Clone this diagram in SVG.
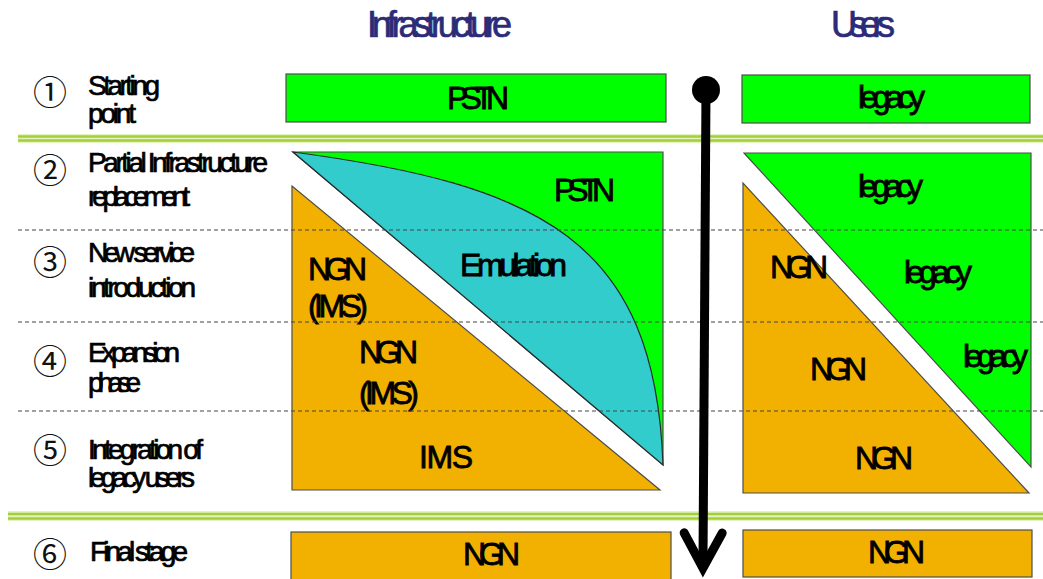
<svg xmlns="http://www.w3.org/2000/svg" width="1043" height="579" viewBox="0 0 1043 579">
  <style>
    .hdr { font-family: "Liberation Sans", Arial, sans-serif; font-size: 36px; fill: #2B2B78; stroke: #2B2B78; stroke-width: 0.7; }
    .lbl { font-family: "Liberation Sans", Arial, sans-serif; font-size: 28px; fill: #000; stroke: #000; stroke-width: 0.7; }
    .txt { font-family: "Liberation Sans", Arial, sans-serif; font-size: 32px; fill: #000; stroke: #000; stroke-width: 0.8; }
    .num { font-family: "Noto Sans CJK JP", "DejaVu Sans", sans-serif; font-size: 34px; fill: #111; }
    .green { fill: #00FF00; stroke: #4d4d4d; stroke-width: 1.2; }
    .orange { fill: #F2B100; stroke: #4d4d4d; stroke-width: 1.2; }
    .cyan { fill: #33CCCC; stroke: #2a2a2a; stroke-width: 1.2; }
    .band { fill: #e4f3c2; }
    .bandline { stroke: #a4cf3a; stroke-width: 2.5; }
    .dash { stroke: #444; stroke-width: 1.2; stroke-dasharray: 4 3; fill: none; }
    .flow { stroke: #000; stroke-width: 9; fill: none; }
  </style>
  <defs>
    <marker id="dot" markerUnits="userSpaceOnUse" markerWidth="40" markerHeight="40" refX="0" refY="0" viewBox="-20 -20 40 40" overflow="visible">
      <circle cx="0" cy="0" r="14" fill="#000"/>
    </marker>
    <marker id="chevron" markerUnits="userSpaceOnUse" orient="auto" markerWidth="60" markerHeight="60" refX="0" refY="0" viewBox="-30 -30 60 60" overflow="visible">
      <path d="M-27,-19 L8,0 L-27,19" fill="none" stroke="#000" stroke-width="9" stroke-linecap="round" stroke-linejoin="miter"/>
    </marker>
  </defs>

  <rect width="1043" height="579" fill="#fff"/>

  <!-- column headings -->
  <text class="hdr" x="367" y="37" textLength="145" lengthAdjust="spacing">Infrastructure</text>
  <text class="hdr" x="831" y="37" textLength="64" lengthAdjust="spacing">Users</text>

  <!-- stage labels -->
  <g id="stage-labels">
    <text class="num" x="50" y="90" text-anchor="middle" dominant-baseline="central">①</text>
    <text class="lbl" x="88" y="95" textLength="72" lengthAdjust="spacing">Starting</text>
    <text class="lbl" x="88" y="123" textLength="48" lengthAdjust="spacing">point</text>

    <text class="num" x="50" y="168" text-anchor="middle" dominant-baseline="central">②</text>
    <text class="lbl" x="88" y="172" textLength="180" lengthAdjust="spacing">Partial Infrastructure</text>
    <text class="lbl" x="88" y="206" textLength="102" lengthAdjust="spacing">replacement</text>

    <text class="num" x="50" y="260" text-anchor="middle" dominant-baseline="central">③</text>
    <text class="lbl" x="88" y="262" textLength="107" lengthAdjust="spacing">New service</text>
    <text class="lbl" x="88" y="297" textLength="108" lengthAdjust="spacing">introduction</text>

    <text class="num" x="50" y="359" text-anchor="middle" dominant-baseline="central">④</text>
    <text class="lbl" x="88" y="362" textLength="92" lengthAdjust="spacing">Expansion</text>
    <text class="lbl" x="88" y="392" textLength="53" lengthAdjust="spacing">phase</text>

    <text class="num" x="50" y="448" text-anchor="middle" dominant-baseline="central">⑤</text>
    <text class="lbl" x="88" y="459" textLength="115" lengthAdjust="spacing">Integration of</text>
    <text class="lbl" x="88" y="487" textLength="107" lengthAdjust="spacing">legacy users</text>

    <text class="num" x="50" y="552" text-anchor="middle" dominant-baseline="central">⑥</text>
    <text class="lbl" x="90" y="561" textLength="98" lengthAdjust="spacing">Final stage</text>
  </g>

  <!-- stage 1 -->
  <g id="infra-start">
    <rect class="green" x="286" y="74" width="380" height="48"/>
    <text class="txt" x="447" y="109" textLength="62" lengthAdjust="spacing">PSTN</text>
  </g>
  <g id="users-start">
    <rect class="green" x="742" y="75" width="288" height="48"/>
    <text class="txt" x="858" y="108" textLength="67" lengthAdjust="spacing">legacy</text>
  </g>

  <!-- stages 2-5: infrastructure migration -->
  <g id="infra-pstn">
    <path class="green" d="M293,152 L663,152 L663,465 Z"/>
    <text class="txt" x="554" y="201" textLength="61" lengthAdjust="spacing">PSTN</text>
  </g>
  <g id="infra-emulation">
    <path class="cyan" d="M293,152 C540,185 655,240 663,465 Z"/>
    <text class="txt" x="460" y="276" textLength="107" lengthAdjust="spacing">Emulation</text>
  </g>
  <g id="infra-ngn">
    <path class="orange" d="M292,186 L292,490 L660,490 Z"/>
    <text class="txt" x="308" y="280" textLength="59" lengthAdjust="spacing">NGN</text>
    <text class="txt" x="308" y="317" textLength="60" lengthAdjust="spacing">(IMS)</text>
    <text class="txt" x="359" y="363" textLength="59" lengthAdjust="spacing">NGN</text>
    <text class="txt" x="359" y="404" textLength="60" lengthAdjust="spacing">(IMS)</text>
    <text class="txt" x="419" y="468" textLength="54" lengthAdjust="spacing">IMS</text>
  </g>

  <!-- stages 2-5: user migration -->
  <g id="users-legacy">
    <path class="green" d="M744,153 L1031,153 L1031,467 Z"/>
    <text class="txt" x="858" y="197" textLength="65" lengthAdjust="spacing">legacy</text>
    <text class="txt" x="904" y="283" textLength="68" lengthAdjust="spacing">legacy</text>
    <text class="txt" x="963" y="367" textLength="65" lengthAdjust="spacing">legacy</text>
  </g>
  <g id="users-ngn">
    <path class="orange" d="M743,183 L743,493 L1029,493 Z"/>
    <text class="txt" x="770" y="278" textLength="58" lengthAdjust="spacing">NGN</text>
    <text class="txt" x="810" y="380" textLength="57" lengthAdjust="spacing">NGN</text>
    <text class="txt" x="855" y="469" textLength="58" lengthAdjust="spacing">NGN</text>
  </g>

  <!-- stage 6 -->
  <g id="infra-final">
    <rect class="orange" x="291" y="532" width="380" height="52"/>
    <text class="txt" x="463" y="565" textLength="57" lengthAdjust="spacing">NGN</text>
  </g>
  <g id="users-final">
    <rect class="orange" x="743" y="530" width="289" height="47"/>
    <text class="txt" x="868" y="563" textLength="57" lengthAdjust="spacing">NGN</text>
  </g>

  <!-- phase separators -->
  <g id="separators">
    <rect class="band" x="18" y="134" width="1025" height="9"/>
    <line class="bandline" x1="18" y1="136.5" x2="1043" y2="136.5"/>
    <line class="bandline" x1="18" y1="140.5" x2="1043" y2="140.5"/>
    <rect class="band" x="8" y="511" width="1035" height="10"/>
    <line class="bandline" x1="8" y1="514" x2="1043" y2="514"/>
    <line class="bandline" x1="8" y1="518.5" x2="1043" y2="518.5"/>
    <line class="dash" x1="18" y1="230" x2="1043" y2="230"/>
    <line class="dash" x1="18" y1="322" x2="1043" y2="322"/>
    <line class="dash" x1="18" y1="411" x2="1043" y2="411"/>
  </g>

  <!-- timeline arrow -->
  <g id="connectors">
    <line class="flow" x1="706" y1="90" x2="703" y2="560" marker-start="url(#dot)" marker-end="url(#chevron)"/>
  </g>
</svg>
